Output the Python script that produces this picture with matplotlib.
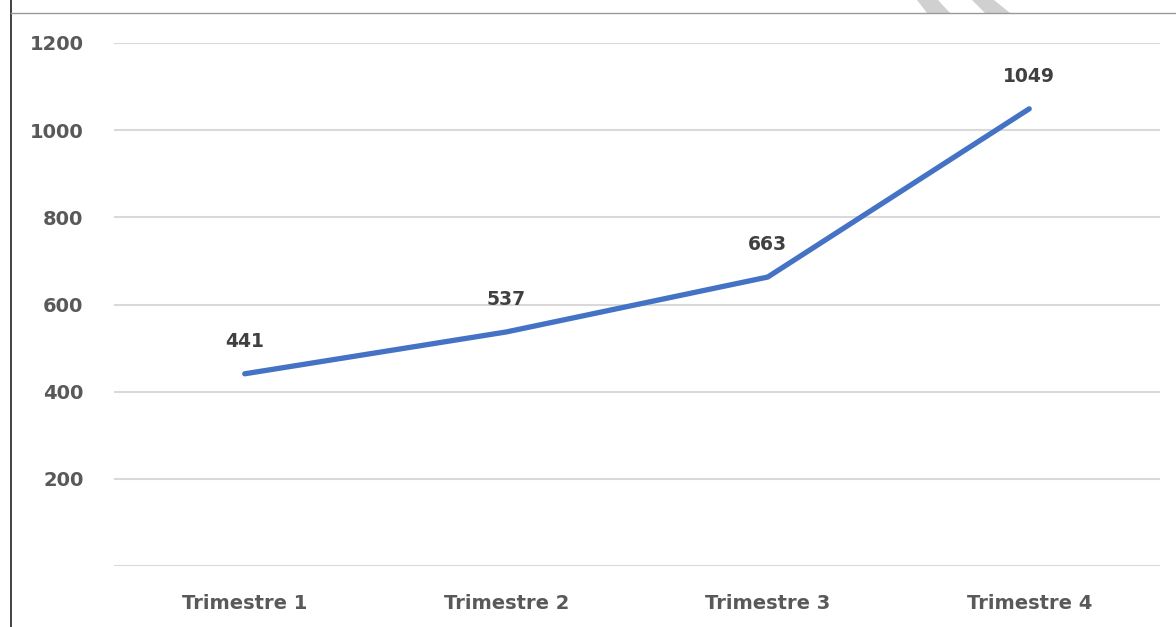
import matplotlib.pyplot as plt
from matplotlib.patches import Polygon
from matplotlib.lines import Line2D

# data
trimestres = ['Trimestre 1', 'Trimestre 2', 'Trimestre 3', 'Trimestre 4']
valeurs = [441, 537, 663, 1049]
y_ticks = [0, 200, 400, 600, 800, 1000, 1200]

plt.rcParams['font.family'] = ['DejaVu Sans']

W, H = 1176, 627
fig = plt.figure(figsize=(W / 100, H / 100), dpi=100)
ax = fig.add_axes([114 / W, (H - 566) / H, (1160 - 114) / W, (566 - 43) / H])

x = list(range(len(trimestres)))
ax.plot(x, valeurs, color='#4472C4', linewidth=3.8, solid_capstyle='round', zorder=3)

for xi, v in zip(x, valeurs):
    ax.annotate(str(v), (xi, v), xytext=(0, 16.5), textcoords='offset points',
                ha='center', va='bottom', fontsize=13.5, fontweight='bold', color='#404040')

ax.set_xlim(-0.5, len(trimestres) - 0.5)
ax.set_ylim(0, 1200)
ax.set_yticks(y_ticks)
ax.set_yticklabels([str(t) if t > 0 else '' for t in y_ticks])
ax.set_xticks(x)
ax.set_xticklabels(trimestres)

ax.grid(axis='y', color='#d9d9d9', linewidth=1.5, zorder=0)
for s in ax.spines.values():
    s.set_visible(False)
ax.tick_params(axis='both', length=0, labelsize=14, labelcolor='#595959')
ax.tick_params(axis='y', pad=22)
ax.tick_params(axis='x', pad=20)
for lab in ax.get_xticklabels() + ax.get_yticklabels():
    lab.set_fontweight('bold')

# frame edges of the screenshot
fig.add_artist(Line2D([11 / W, 11 / W], [0, 1], color='#222222', linewidth=1.2))
fig.add_artist(Line2D([11 / W, 1], [1 - 13 / H, 1 - 13 / H], color='#999999', linewidth=1.0))

# watermark strokes at the top
for pts in ([(917, 0), (938, 0), (950, 13), (927, 13)],
            [(972, 0), (994, 0), (1010, 13), (985, 13)]):
    fig.add_artist(Polygon([(px / W, 1 - py / H) for px, py in pts], closed=True,
                           facecolor='#d0d0d0', edgecolor='none'))

fig.savefig('out.png', dpi=100)
